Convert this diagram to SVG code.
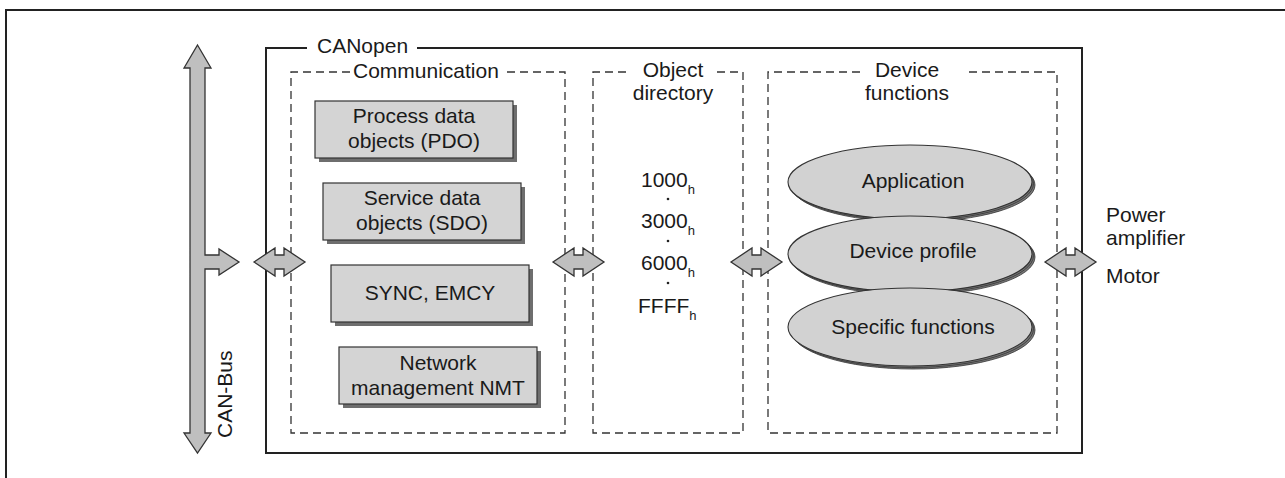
<svg xmlns="http://www.w3.org/2000/svg" width="1285" height="478" viewBox="0 0 1285 478">
<style>
text{font-family:"Liberation Sans",Arial,sans-serif;font-size:21px;fill:#1a1a1a}
.c{text-anchor:middle}
.dash{fill:none;stroke:#333;stroke-width:1.3;stroke-dasharray:8 5}
.solid{fill:none;stroke:#222;stroke-width:2}
.box{fill:#d4d4d4;stroke:#333;stroke-width:1.2}
.shadow{fill:#6e6e6e}
.arrow{fill:#bfbfbf;stroke:#333;stroke-width:1.3;stroke-linejoin:miter}
.ell{fill:#d2d2d2;stroke:#333;stroke-width:1.1}
.esh{fill:#777;stroke:#333;stroke-width:0.8}
.sub{font-size:13px}
</style>
<defs>
<path id="dbl" d="M0,0 L21,-14 L21,-7 L30,-7 L30,-14 L51,0 L30,14 L30,7 L21,7 L21,14 Z"/>
</defs>
<rect width="1285" height="478" fill="#fff"/>
<g id="frame">
<polyline class="solid" points="6,478 6,10 1285,10"/>
</g>
<g id="canopen">
<polyline class="solid" points="307,48 266,48 266,453 1082,453 1082,48 417,48"/>
<text x="317" y="53">CANopen</text>
</g>
<g id="communication">
<polyline class="dash" points="350,72 291,72 291,433 565,433 565,72 505,72"/>
<text x="353" y="78">Communication</text>
</g>
<g id="pdo">
<rect class="shadow" x="319" y="105" width="198" height="57"/>
<rect class="box" x="315" y="101" width="198" height="57"/>
<text class="c" x="414" y="123">Process data</text>
<text class="c" x="414" y="148">objects (PDO)</text>
</g>
<g id="sdo">
<rect class="shadow" x="327" y="187" width="198" height="57"/>
<rect class="box" x="323" y="183" width="198" height="57"/>
<text class="c" x="422" y="205">Service data</text>
<text class="c" x="422" y="230">objects (SDO)</text>
</g>
<g id="sync">
<rect class="shadow" x="335" y="269" width="198" height="57"/>
<rect class="box" x="331" y="265" width="198" height="57"/>
<text class="c" x="430" y="300">SYNC, EMCY</text>
</g>
<g id="nmt">
<rect class="shadow" x="343" y="351" width="198" height="57"/>
<rect class="box" x="339" y="347" width="198" height="57"/>
<text class="c" x="438" y="370">Network</text>
<text class="c" x="438" y="395">management NMT</text>
</g>
<g id="objdir">
<polyline class="dash" points="626,72 593,72 593,433 743,433 743,72 717,72"/>
<text class="c" x="673" y="77">Object</text>
<text class="c" x="673" y="100">directory</text>
<text x="641" y="187">1000<tspan class="sub" dy="7">h</tspan></text>
<circle cx="668" cy="199" r="1.3" fill="#222"/>
<text x="641" y="228">3000<tspan class="sub" dy="7">h</tspan></text>
<circle cx="668" cy="241" r="1.3" fill="#222"/>
<text x="641" y="270">6000<tspan class="sub" dy="7">h</tspan></text>
<circle cx="668" cy="283" r="1.3" fill="#222"/>
<text x="638" y="313">FFFF<tspan class="sub" dy="7">h</tspan></text>
</g>
<g id="devfunc">
<polyline class="dash" points="860,72 768,72 768,433 1057,433 1057,72 967,72"/>
<text class="c" x="907" y="77">Device</text>
<text class="c" x="907" y="100">functions</text>
</g>
<g id="application">
<ellipse class="esh" cx="913" cy="185" rx="122" ry="37"/>
<ellipse class="esh" cx="911.5" cy="183.5" rx="122" ry="37"/>
<ellipse class="ell" cx="910" cy="182" rx="122" ry="37"/>
<text class="c" x="913" y="188">Application</text>
</g>
<g id="profile">
<ellipse class="esh" cx="913" cy="257" rx="122" ry="38"/>
<ellipse class="esh" cx="911.5" cy="255.5" rx="122" ry="38"/>
<ellipse class="ell" cx="910" cy="254" rx="122" ry="38"/>
<text class="c" x="913" y="258">Device profile</text>
</g>
<g id="specific">
<ellipse class="esh" cx="913" cy="330" rx="122" ry="39"/>
<ellipse class="esh" cx="911.5" cy="328.5" rx="122" ry="39"/>
<ellipse class="ell" cx="910" cy="327" rx="122" ry="39"/>
<text class="c" x="913" y="334">Specific functions</text>
</g>
<g id="canbus">
<path class="arrow" d="M197.5,45 L211,68 L205,68 L205,255 L219,255 L219,249 L239,262 L219,275 L219,269 L205,269 L205,433 L211,433 L197.5,453 L184,433 L190,433 L190,68 L184,68 Z"/>
<text transform="translate(232,438) rotate(-90)">CAN-Bus</text>
</g>
<g id="outputs">
<text x="1106" y="222">Power</text>
<text x="1106" y="245">amplifier</text>
<text x="1106" y="283">Motor</text>
</g>
<g id="connectors">
<use href="#dbl" class="arrow" x="254" y="262"/>
<use href="#dbl" class="arrow" x="553" y="262"/>
<use href="#dbl" class="arrow" x="731" y="262"/>
<use href="#dbl" class="arrow" x="1045" y="262"/>
</g>
</svg>
